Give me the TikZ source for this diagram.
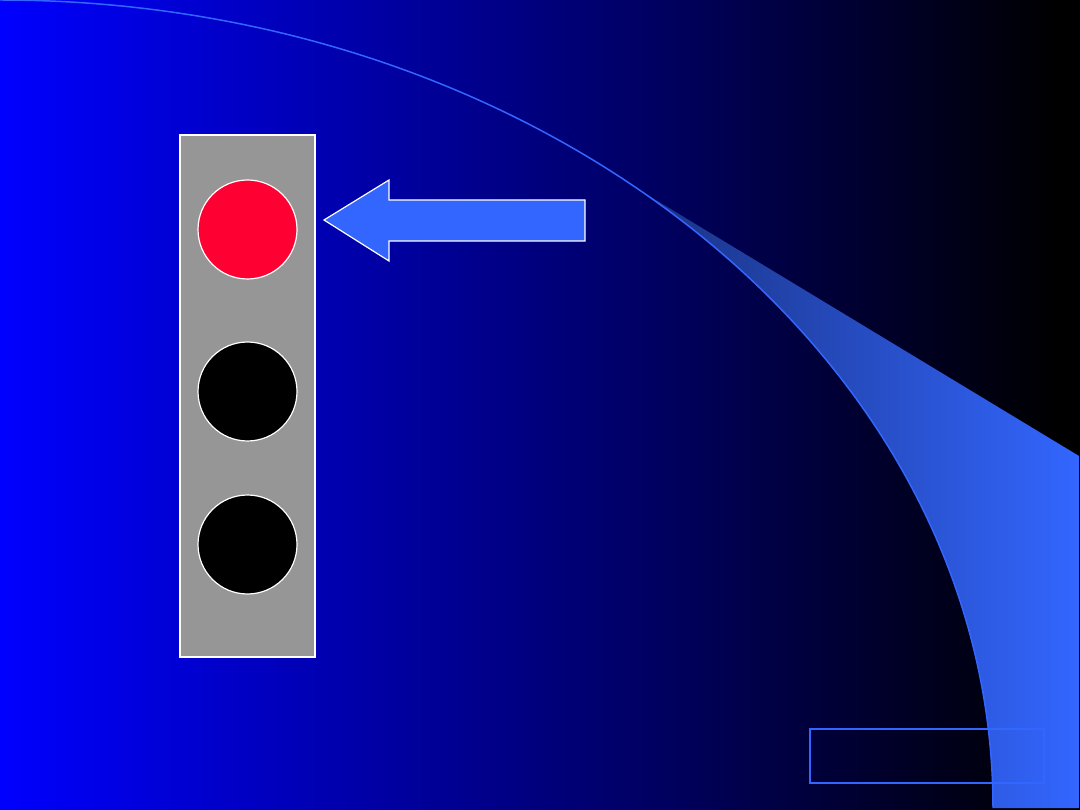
\documentclass[tikz,border=0pt]{standalone}
\definecolor{swoosh}{RGB}{51,102,255}
\definecolor{housing}{RGB}{150,150,150}
\definecolor{lampred}{RGB}{255,0,51}
\definecolor{swl}{RGB}{25,50,130}
\pgfdeclarehorizontalshading{bgshade}{100bp}{color(0bp)=(blue); color(25bp)=(blue); color(74bp)=(black); color(100bp)=(black)}
\pgfdeclarehorizontalshading{swooshshade}{100bp}{color(0bp)=(swl); color(25bp)=(swl); color(75bp)=(swoosh); color(100bp)=(swoosh)}
\tikzset{
  x=1pt,y=-1pt,
  housingbox/.style={draw=white,line width=2pt,fill=housing,minimum width=135pt,minimum height=522pt,inner sep=0pt,outer sep=0pt,anchor=north west},
  lamp/.style={circle,draw=white,line width=1.2pt,minimum size=99pt,inner sep=0pt,outer sep=0pt},
  arrowshape/.style={draw=white,line width=1.2pt,fill=swoosh,line join=miter},
  swooshline/.style={draw=swoosh,line width=1.5pt},
  footerbox/.style={draw=swoosh,line width=1.5pt,minimum width=234pt,minimum height=54pt,inner sep=0pt,outer sep=0pt,anchor=north west}
}
\begin{document}
\begin{tikzpicture}
\useasboundingbox (0,0) rectangle (1080,810);
\shade[shading=bgshade] (0,0) rectangle (1080,810);
% swoosh
\begin{scope}
\clip (0,0) .. controls (548,0) and (993,362) .. (993,808) -- (1079,808) -- (1079,456) -- (650,196.5) -- cycle;
\clip (650,196.5) -- (1079,456) -- (1079,808) -- (900,808) -- (600,300) -- cycle;
\shade[shading=swooshshade] (640,100) rectangle (1079,808);
\end{scope}
\draw[swooshline] (0,0) .. controls (548,0) and (993,362) .. (993,808);
% signal
\node[housingbox] (housing) at (180,135) {};
\node[lamp,fill=lampred] (redlamp) at (247.5,229.5) {};
\node[lamp,fill=black] (amberlamp) at (247.5,391.5) {};
\node[lamp,fill=black] (greenlamp) at (247.5,544.5) {};
\draw[arrowshape] (324,220) -- (389,180) -- (389,200) -- (585,200) -- (585,241) -- (389,241) -- (389,261) -- cycle;
\node[footerbox] (footer) at (810,729) {};
\end{tikzpicture}
\end{document}
